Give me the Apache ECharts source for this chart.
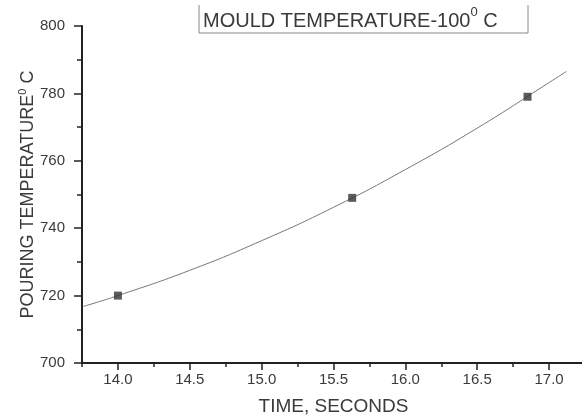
<!DOCTYPE html>
<html>
<head>
<meta charset="utf-8">
<script src="https://cdn.jsdelivr.net/npm/echarts@6/dist/echarts.min.js"></script>
<style>
  html, body { margin: 0; padding: 0; background: #fff; }
  #chart { width: 582px; height: 419px; }
</style>
</head>
<body>
<div id="chart"></div>
<script>
// measured points
const timeVals = [14.0, 15.63, 16.85];
const tempVals = [720, 749, 779];
// fitted curve
const curveTime = [13.76, 14.0, 14.5, 15.0, 15.5, 16.0, 16.5, 17.0, 17.12];
const curveTemp = [716.8, 720.0, 727.5, 736.3, 746.2, 757.4, 769.7, 783.2, 786.5];
// axis ticks
const xMajorTicks = [14.0, 14.5, 15.0, 15.5, 16.0, 16.5, 17.0];
const yTicks = [700, 720, 740, 760, 780, 800];

const font = "'Liberation Sans', Arial, sans-serif";
const ink = "#3a3a3a";

let chart = echarts.init(document.getElementById("chart"));
chart.setOption({
  backgroundColor: "#fff",
  animation: false,
  title: {
    text: "MOULD TEMPERATURE-100{sup|0} C",
    left: 203,
    top: 6,
    padding: 0,
    textStyle: {
      fontFamily: font,
      fontSize: 20,
      fontWeight: "normal",
      color: ink,
      lineHeight: 30,
      rich: {
        sup: { fontFamily: font, fontSize: 13, color: ink, verticalAlign: "top", lineHeight: 14 }
      }
    }
  },
  graphic: [
    {
      type: "polyline",
      shape: { points: [[199, 5], [199, 33], [528, 33], [528, 5]] },
      style: { stroke: "#888", lineWidth: 1, fill: null }
    }
  ],
  grid: {
    left: 82,
    right: -3,
    top: 26,
    bottom: 56,
    containLabel: false,
    outerBoundsMode: "none"
  },
  xAxis: [
    {
      type: "value",
      min: 13.75,
      max: 17.25,
      name: "TIME, SECONDS",
      nameLocation: "middle",
      nameGap: 34,
      nameMoveOverlap: false,
      nameTextStyle: { fontFamily: font, fontSize: 19, color: ink },
      axisLine: { lineStyle: { color: "#222", width: 2 } },
      axisTick: {
        customValues: xMajorTicks,
        length: 7,
        lineStyle: { color: "#222", width: 1.5 }
      },
      axisLabel: {
        customValues: xMajorTicks,
        margin: 9,
        fontFamily: font,
        fontSize: 15,
        color: ink,
        formatter: function(v) {
          return v.toFixed(1);
        }
      },
      splitLine: { show: false }
    },
    {
      // minor ticks every 0.25
      type: "value",
      min: 13.75,
      max: 17.25,
      interval: 0.25,
      position: "bottom",
      axisLine: { show: false },
      axisTick: { length: 4, lineStyle: { color: "#222", width: 1.5 } },
      axisLabel: { show: false },
      splitLine: { show: false }
    }
  ],
  yAxis: {
    type: "value",
    min: 700,
    max: 800,
    interval: 20,
    name: "POURING TEMPERATURE{sup|0} C",
    nameLocation: "middle",
    nameGap: 43,
    nameMoveOverlap: false,
    nameTextStyle: {
      fontFamily: font,
      fontSize: 18,
      color: ink,
      lineHeight: 22,
      rich: {
        sup: { fontFamily: font, fontSize: 11, color: ink, verticalAlign: "top", lineHeight: 12 }
      }
    },
    axisLine: { show: true, lineStyle: { color: "#222", width: 2 } },
    axisTick: { show: true, length: 8, lineStyle: { color: "#222", width: 1.5 } },
    minorTick: { show: true, splitNumber: 2, length: 5, lineStyle: { color: "#222", width: 1.5 } },
    axisLabel: {
      margin: 17,
      fontFamily: font,
      fontSize: 15,
      color: ink,
      customValues: yTicks
    },
    splitLine: { show: false }
  },
  series: [
    {
      name: "fit",
      type: "line",
      data: curveTime.map((t, i) => [t, curveTemp[i]]),
      smooth: true,
      showSymbol: false,
      lineStyle: { color: "#777", width: 1 },
      z: 1
    },
    {
      name: "measured",
      type: "scatter",
      data: timeVals.map((t, i) => [t, tempVals[i]]),
      symbol: "rect",
      symbolSize: 8,
      itemStyle: { color: "#333" },
      z: 2
    }
  ]
});
</script>
</body>
</html>
